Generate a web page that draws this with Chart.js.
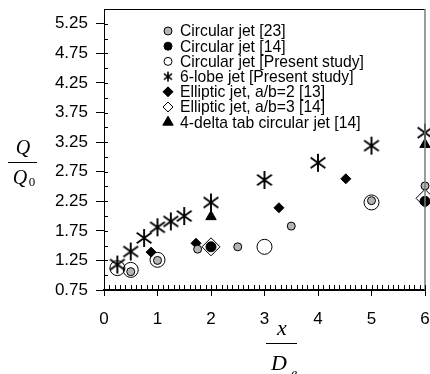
<!DOCTYPE html>
<html>
<head>
<meta charset="utf-8">
<script src="https://cdn.jsdelivr.net/npm/chart.js@4.4.1/dist/chart.umd.min.js"></script>
<style>
  html, body { margin: 0; padding: 0; background: #fff; }
  canvas { display: block; }
</style>
</head>
<body>
<canvas id="chart" width="430" height="374"></canvas>
<script>
// values
var circ23X = [0.5, 1, 1.75, 2.5, 3.5, 5, 6];
var circ23Y = [1.06, 1.25, 1.44, 1.48, 1.83, 2.26, 2.51];
var circ14X = [2, 6];
var circ14Y = [1.48, 2.25];
var circPresX = [0.25, 0.5, 1, 3, 5];
var circPresY = [1.12, 1.09, 1.26, 1.48, 2.23];
var lobeX = [0.25, 0.5, 0.75, 1, 1.25, 1.5, 2, 3, 4, 5, 6];
var lobeY = [1.18, 1.40, 1.63, 1.81, 1.91, 2.0, 2.23, 2.61, 2.9, 3.19, 3.41];
var ell2X = [0.88, 1.72, 3.27, 4.52];
var ell2Y = [1.39, 1.54, 2.14, 2.63];
var ell3X = [2, 6];
var ell3Y = [1.48, 2.30];
var deltaX = [2, 6];
var deltaY = [1.99, 3.21];

var xTicks = [0, 1, 2, 3, 4, 5, 6];
var yTicks = [0.75, 1.25, 1.75, 2.25, 2.75, 3.25, 3.75, 4.25, 4.75, 5.25];

var labels = [
    'Circular jet [23]',
    'Circular jet [14]',
    'Circular jet [Present study]',
    '6-lobe jet [Present study]',
    'Elliptic jet, a/b=2 [13]',
    'Elliptic jet, a/b=3 [14]',
    '4-delta tab circular jet [14]'
];

function pts(xs, ys) {
    return xs.map(function (x, i) { return { x: x, y: ys[i] }; });
}

// six armed asterisk used by the 6-lobe series
function makeStar(half, lw) {
    var c = document.createElement('canvas');
    c.width = c.height = half * 2 + 2;
    var g = c.getContext('2d');
    var m = half + 1;
    g.strokeStyle = '#000';
    g.lineWidth = lw;
    g.beginPath();
    [90, 35, 145].forEach(function (a) {
        var r = a * Math.PI / 180;
        g.moveTo(m - Math.cos(r) * half, m - Math.sin(r) * half);
        g.lineTo(m + Math.cos(r) * half, m + Math.sin(r) * half);
    });
    g.stroke();
    return c;
}
var bigStar = makeStar(9, 1.9);
var smallStar = makeStar(5, 1.6);

var gray = '#b4b4b4';
var none = 'rgba(0,0,0,0)';

var legendMarks = [
    { style: 'circle', r: 4, fill: gray },
    { style: 'circle', r: 4, fill: '#000' },
    { style: 'circle', r: 4, fill: none },
    { style: smallStar, r: 5, fill: none },
    { style: 'rectRot', r: 5, fill: '#000' },
    { style: 'rectRot', r: 5, fill: none },
    { style: 'triangle', r: 6, fill: '#000' }
];

var framePlugin = {
    id: 'frame',
    afterDraw: function (chart) {
        var ctx = chart.ctx, a = chart.chartArea;
        var xs = chart.scales.x, ys = chart.scales.y;
        ctx.save();
        // top and right border
        ctx.strokeStyle = '#000';
        ctx.lineWidth = 1;
        ctx.beginPath();
        ctx.moveTo(a.left, a.top + 0.5);
        ctx.lineTo(a.right, a.top + 0.5);
        ctx.stroke();
        ctx.strokeStyle = '#7a7a7a';
        ctx.lineWidth = 1.5;
        ctx.beginPath();
        ctx.moveTo(a.right, a.top);
        ctx.lineTo(a.right, a.bottom);
        ctx.stroke();
        // minor ticks
        ctx.strokeStyle = '#000';
        ctx.lineWidth = 1;
        ctx.beginPath();
        for (var i = 0; i <= 60; i++) {
            var px = Math.round(xs.getPixelForValue(i / 10)) + 0.5;
            ctx.moveTo(px, a.bottom);
            ctx.lineTo(px, a.bottom - 5);
        }
        for (var v = 0.75; v <= 5.26; v += 0.25) {
            var py = Math.round(ys.getPixelForValue(v)) + 0.5;
            ctx.moveTo(a.left, py);
            ctx.lineTo(a.left + 4, py);
        }
        ctx.stroke();

        // legend
        ctx.font = '15.7px "Liberation Sans", Arial, sans-serif';
        ctx.textBaseline = 'middle';
        ctx.textAlign = 'left';
        for (var k = 0; k < labels.length; k++) {
            var ly = a.top + 22 + k * 15.2;
            var m = legendMarks[k];
            ctx.fillStyle = m.fill;
            ctx.strokeStyle = '#000';
            ctx.lineWidth = 1;
            Chart.helpers.drawPoint(ctx, { pointStyle: m.style, radius: m.r, rotation: 0, borderWidth: 1 }, 168, ly);
            ctx.fillStyle = '#000';
            ctx.fillText(labels[k], 180, ly + 1);
        }

        // axis titles
        ctx.fillStyle = '#000';
        ctx.textBaseline = 'alphabetic';
        ctx.textAlign = 'center';
        ctx.font = 'italic 20px "Liberation Serif", "Times New Roman", serif';
        ctx.fillText('Q', 23, 154);
        ctx.fillText('Q', 20, 184);
        ctx.font = '13px "Liberation Serif", "Times New Roman", serif';
        ctx.fillText('0', 32, 186);
        ctx.lineWidth = 1;
        ctx.beginPath();
        ctx.moveTo(8, 162.5);
        ctx.lineTo(37, 162.5);
        ctx.stroke();

        ctx.font = 'italic 22px "Liberation Serif", "Times New Roman", serif';
        ctx.fillText('x', 282, 335);
        ctx.fillText('D', 279, 370);
        ctx.font = 'italic 14px "Liberation Serif", "Times New Roman", serif';
        ctx.fillText('e', 294, 378);
        ctx.beginPath();
        ctx.moveTo(266, 343.5);
        ctx.lineTo(297, 343.5);
        ctx.stroke();
        ctx.restore();
    }
};

var tickFont = { family: '"Liberation Sans", Arial, sans-serif', size: 17 };

var ctx = document.getElementById('chart').getContext('2d');
var chart = new Chart(ctx, {
    type: 'scatter',
    data: {
        datasets: [
            { label: labels[0], data: pts(circ23X, circ23Y), pointStyle: 'circle', pointRadius: 4,
              backgroundColor: gray, borderColor: '#000', borderWidth: 1 },
            { label: labels[1], data: pts(circ14X, circ14Y), pointStyle: 'circle', pointRadius: 5,
              backgroundColor: '#000', borderColor: '#000', borderWidth: 1 },
            { label: labels[2], data: pts(circPresX, circPresY), pointStyle: 'circle', pointRadius: 7.5,
              backgroundColor: none, borderColor: '#000', borderWidth: 1 },
            { label: labels[3], data: pts(lobeX, lobeY), pointStyle: bigStar, pointRadius: 9,
              backgroundColor: none, borderColor: '#000' },
            { label: labels[4], data: pts(ell2X, ell2Y), pointStyle: 'rectRot', pointRadius: 5,
              backgroundColor: '#000', borderColor: '#000', borderWidth: 1 },
            { label: labels[5], data: pts(ell3X, ell3Y), pointStyle: 'rectRot', pointRadius: 9,
              backgroundColor: none, borderColor: '#000', borderWidth: 1 },
            { label: labels[6], data: pts(deltaX, deltaY), pointStyle: 'triangle', pointRadius: 6,
              backgroundColor: '#000', borderColor: '#000', borderWidth: 1 }
        ].map(function (d) { d.clip = false; d.pointHoverRadius = d.pointRadius; return d; })
    },
    options: {
        responsive: false,
        animation: false,
        layout: { autoPadding: false, padding: { top: 9, right: 5, left: 0, bottom: 0 } },
        plugins: { legend: { display: false }, tooltip: { enabled: false } },
        scales: {
            x: {
                type: 'linear', min: 0, max: 6,
                afterBuildTicks: function (s) { s.ticks = xTicks.map(function (v) { return { value: v }; }); },
                afterFit: function (s) { s.height = 84; s.paddingLeft = 0; s.paddingRight = 0; },
                grid: { drawOnChartArea: false, drawTicks: true, tickLength: 6, tickColor: '#000' },
                border: { display: true, color: '#000', width: 2 },
                ticks: { font: tickFont, color: '#000', padding: 13, maxRotation: 0 }
            },
            y: {
                type: 'linear', min: 0.75, max: 5.5,
                afterBuildTicks: function (s) { s.ticks = yTicks.map(function (v) { return { value: v }; }); },
                afterFit: function (s) { s.width = 104; s.paddingTop = 0; s.paddingBottom = 0; },
                grid: { drawOnChartArea: false, drawTicks: true, tickLength: 8, tickColor: '#000' },
                border: { display: true, color: '#000', width: 1 },
                ticks: { font: tickFont, color: '#000', padding: 8,
                         callback: function (v) { return v.toFixed(2); } }
            }
        }
    },
    plugins: [framePlugin]
});
</script>
</body>
</html>
